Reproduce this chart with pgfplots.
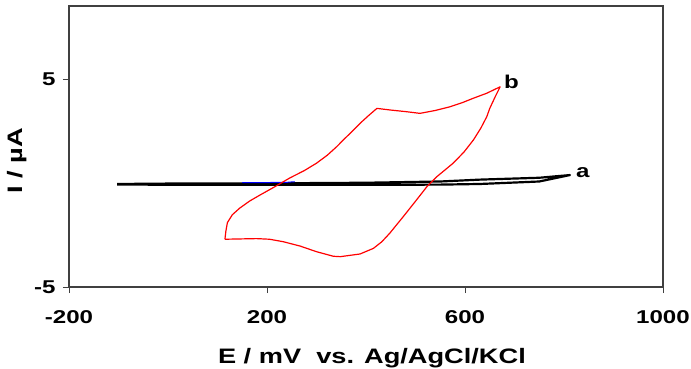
\documentclass[border=0pt]{standalone}
\usepackage{pgfplots}
\pgfplotsset{compat=1.18}
\usepackage{fontspec}
\setmainfont{Liberation Sans}[FakeStretch=1.3]
\definecolor{framegray}{HTML}{404040}
\begin{document}
\begin{tikzpicture}
\useasboundingbox (-69bp,-82bp) rectangle (622bp,287bp);
\begin{axis}[
  scale only axis,
  width=594bp, height=281bp,
  xmin=-200, xmax=1000, ymin=-5, ymax=8.53,
  xtick={-200,200,600,1000}, ytick={-5,5},
  tick align=outside, major tick length=6bp,
  tick style={framegray, line width=1pt},
  axis line style={framegray, line width=1.6pt},
  xtick pos=bottom, ytick pos=left,
  /pgf/number format/assume math mode=true,
  /pgf/number format/1000 sep={},
  ticklabel style={font=\fontsize{18.6}{20}\selectfont\bfseries},
  xticklabel style={yshift=-14bp},
  yticklabel style={xshift=-4bp},
  xlabel={E / mV\ \ vs. Ag/AgCl/KCl},
  ylabel={I / µA},
  label style={font=\fontsize{21}{24}\selectfont\bfseries},
  xlabel style={at={(rel axis cs:0.51,0)}, anchor=base, yshift=-76bp},
  ylabel style={at={(rel axis cs:0,0.45)}, anchor=center, yshift=51.5bp},
  clip=false,
]
% curve a (black)
\addplot[black, line width=2.2pt, line join=round] coordinates {
(-103,-0.04) (0,-0.02) (200,-0.01) (400,0.02) (550,0.08) (630,0.17) (750,0.26) (812,0.39)
(750,0.08) (630,-0.04) (550,-0.07) (400,-0.08) (200,-0.08) (0,-0.08) (-103,-0.06)
};
% small blue segment
\addplot[blue, line width=1pt] coordinates {
(150,0.02) (200,0.03) (240,0.04) (256,0.07)
};
% curve b (red)
\addplot[red, line width=1.2pt, line join=round] coordinates {
(115,-2.70) (117,-2.30) (120,-1.90) (130,-1.52) (145,-1.20) (165,-0.86) (186,-0.57) (216,-0.17) (246,0.25)
(275,0.60) (300,0.96) (322,1.35) (341,1.76) (355,2.10) (368,2.40) (388,2.88) (405,3.25) (422,3.60) (450,3.52) (482,3.44)
(509,3.36) (540,3.50) (570,3.68) (595,3.88) (617,4.09) (644,4.33) (671,4.64) (661,4.16)
(650,3.60) (644,3.20) (632,2.65) (617,2.08) (598,1.50) (576,0.96) (543,0.31) (523,-0.17) (502,-0.81)
(475,-1.62) (448,-2.41) (432,-2.82) (415,-3.14) (388,-3.41) (348,-3.54) (334,-3.52)
(300,-3.30) (267,-3.03) (233,-2.82) (205,-2.70) (179,-2.67) (115,-2.70)
};
\node[font=\fontsize{18.6}{20}\selectfont\bfseries] at (axis cs:694,4.89) {b};
\node[font=\fontsize{18.6}{20}\selectfont\bfseries] at (axis cs:838,0.50) {a};
\end{axis}
\end{tikzpicture}
\end{document}
